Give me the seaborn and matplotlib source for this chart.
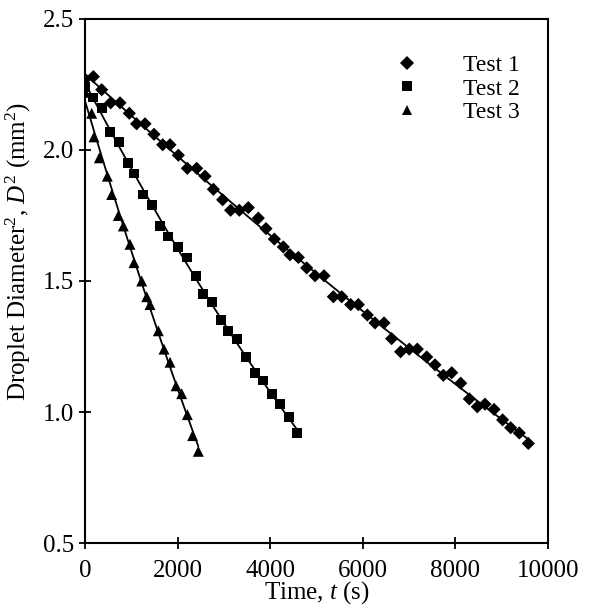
import pandas as pd
import seaborn as sns
import matplotlib.pyplot as plt
import numpy as np

# values
t_test1 = [0, 180, 360, 555, 756, 957, 1114, 1296, 1490, 1678, 1836, 2016, 2210, 2412,
           2592, 2772, 2972, 3145, 3333, 3527, 3743, 3909, 4089, 4283, 4428, 4607, 4788,
           4968, 5162, 5363, 5544, 5738, 5903, 6098, 6263, 6458, 6622, 6816, 7004, 7177,
           7380, 7559, 7739, 7920, 8114, 8300, 8473, 8639, 8834, 9020, 9193, 9380, 9575]
d2_test1 = [2.27, 2.28, 2.23, 2.18, 2.18, 2.14, 2.10, 2.10, 2.06, 2.02, 2.02, 1.98, 1.93, 1.93,
            1.90, 1.85, 1.81, 1.77, 1.77, 1.78, 1.74, 1.70, 1.66, 1.63, 1.60, 1.59, 1.55,
            1.52, 1.52, 1.44, 1.44, 1.41, 1.41, 1.37, 1.34, 1.34, 1.28, 1.23, 1.24, 1.24,
            1.21, 1.18, 1.14, 1.15, 1.11, 1.05, 1.02, 1.03, 1.01, 0.97, 0.94, 0.92, 0.88]

t_test2 = [0, 180, 360, 540, 741, 935, 1058, 1259, 1440, 1620, 1800, 2002, 2196, 2391,
           2555, 2736, 2931, 3095, 3289, 3477, 3672, 3838, 4032, 4212, 4413, 4572]
d2_test2 = [2.24, 2.20, 2.16, 2.07, 2.03, 1.95, 1.91, 1.83, 1.79, 1.71, 1.67, 1.63, 1.59, 1.52,
            1.45, 1.42, 1.35, 1.31, 1.28, 1.21, 1.15, 1.12, 1.07, 1.03, 0.98, 0.92]

t_test3 = [0, 144, 194, 309, 482, 576, 720, 828, 972, 1058, 1224, 1332, 1404, 1584,
           1706, 1836, 1965, 2088, 2210, 2324, 2447]
d2_test3 = [2.22, 2.14, 2.05, 1.97, 1.90, 1.83, 1.75, 1.71, 1.64, 1.57, 1.50, 1.44, 1.41, 1.31,
            1.24, 1.19, 1.10, 1.07, 0.99, 0.91, 0.85]

series = ['Test 1', 'Test 2', 'Test 3']

df = pd.DataFrame({
    'Time': t_test1 + t_test2 + t_test3,
    'D2': d2_test1 + d2_test2 + d2_test3,
    'Test': ['Test 1'] * len(t_test1) + ['Test 2'] * len(t_test2) + ['Test 3'] * len(t_test3),
})

sns.set_style('ticks', rc={'text.color': 'black', 'axes.labelcolor': 'black',
                           'xtick.color': 'black', 'ytick.color': 'black'})
plt.rcParams['font.family'] = ['Liberation Serif', 'DejaVu Serif']
plt.rcParams['mathtext.fontset'] = 'custom'
plt.rcParams['mathtext.rm'] = 'Liberation Serif'
plt.rcParams['mathtext.it'] = 'Liberation Serif:italic'

fig = plt.figure(figsize=(5.92, 6.12), dpi=100)
ax = fig.add_axes([0.1436, 0.1127, 0.7821, 0.8563])

# fitted lines
for name in series:
    sub = df[df['Test'] == name]
    sns.regplot(data=sub, x='Time', y='D2', scatter=False, order=2, ci=None,
                color='black', line_kws={'lw': 1.3}, ax=ax)

sns.scatterplot(data=df, x='Time', y='D2', style='Test', size='Test',
                markers={'Test 1': 'D', 'Test 2': 's', 'Test 3': '^'},
                sizes={'Test 1': 45, 'Test 2': 50, 'Test 3': 62},
                color='black', linewidth=0, ax=ax, zorder=3)

handles, labels = ax.get_legend_handles_labels()
ax.legend(handles, labels, frameon=False, loc='upper right',
          bbox_to_anchor=(0.94, 0.932), fontsize=17, handletextpad=1.38,
          labelspacing=0.08, borderaxespad=0, borderpad=0)

ax.set_xlim(0, 10000)
ax.set_ylim(0.5, 2.5)
ax.set_xticks(np.arange(0, 10001, 2000))
ax.set_yticks([0.5, 1.0, 1.5, 2.0, 2.5])
ax.set_yticklabels(['0.5', '1.0', '1.5', '2.0', '2.5'])
ax.tick_params(direction='inout', length=9, width=1.3, labelsize=18, pad=3)
ax.tick_params(axis='x', pad=7.5)
for sp in ax.spines.values():
    sp.set_linewidth(1.5)
    sp.set_color('black')

ax.set_xlabel('Time, $t$ (s)', fontsize=18, labelpad=-2)
ax.set_ylabel('Droplet Diameter$^2$, $D^2$ (mm$^2$)', fontsize=18)
ax.yaxis.set_label_coords(-0.112, 0.557)

fig.savefig('out.png', dpi=100)
